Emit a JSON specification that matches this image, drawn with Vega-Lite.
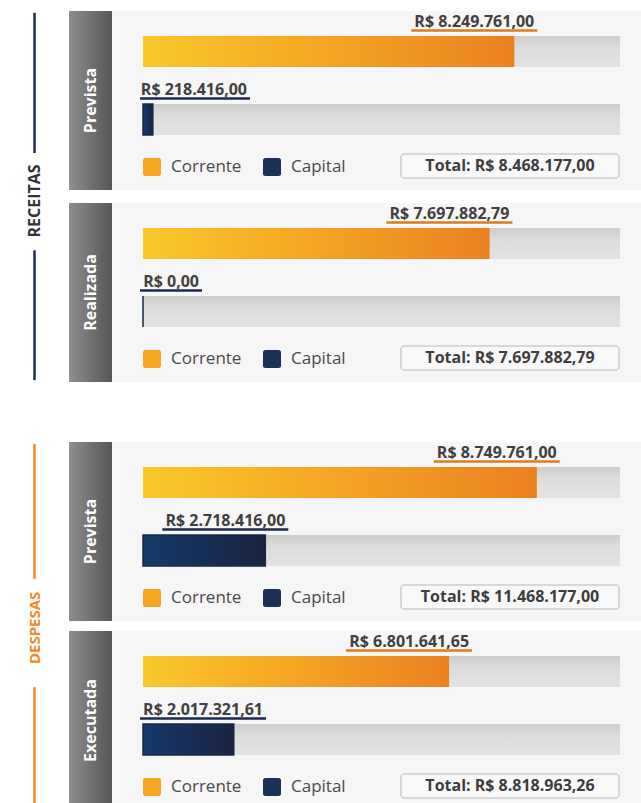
{
  "$schema": "https://vega.github.io/schema/vega-lite/v6.json",
  "background": "white",
  "padding": {"left": 0, "top": 11, "right": 0, "bottom": 0},
  "config": {"view": {"stroke": null}, "font": "Open Sans"},
  "data": {"values": [
    {"painel": "Receitas Prevista", "grupo": "RECEITAS", "etapa": "Prevista", "tipo": "Corrente", "valor": 8249761.00, "rotulo": "R$ 8.249.761,00"},
    {"painel": "Receitas Prevista", "grupo": "RECEITAS", "etapa": "Prevista", "tipo": "Capital", "valor": 218416.00, "rotulo": "R$ 218.416,00"},
    {"painel": "Receitas Prevista", "grupo": "RECEITAS", "etapa": "Prevista", "tipo": "Total", "valor": 8468177.00, "rotulo": "Total: R$ 8.468.177,00"},
    {"painel": "Receitas Realizada", "grupo": "RECEITAS", "etapa": "Realizada", "tipo": "Corrente", "valor": 7697882.79, "rotulo": "R$ 7.697.882,79"},
    {"painel": "Receitas Realizada", "grupo": "RECEITAS", "etapa": "Realizada", "tipo": "Capital", "valor": 0, "rotulo": "R$ 0,00"},
    {"painel": "Receitas Realizada", "grupo": "RECEITAS", "etapa": "Realizada", "tipo": "Total", "valor": 7697882.79, "rotulo": "Total: R$ 7.697.882,79"},
    {"painel": "Despesas Prevista", "grupo": "DESPESAS", "etapa": "Prevista", "tipo": "Corrente", "valor": 8749761.00, "rotulo": "R$ 8.749.761,00"},
    {"painel": "Despesas Prevista", "grupo": "DESPESAS", "etapa": "Prevista", "tipo": "Capital", "valor": 2718416.00, "rotulo": "R$ 2.718.416,00"},
    {"painel": "Despesas Prevista", "grupo": "DESPESAS", "etapa": "Prevista", "tipo": "Total", "valor": 11468177.00, "rotulo": "Total: R$ 11.468.177,00"},
    {"painel": "Despesas Executada", "grupo": "DESPESAS", "etapa": "Executada", "tipo": "Corrente", "valor": 6801641.65, "rotulo": "R$ 6.801.641,65"},
    {"painel": "Despesas Executada", "grupo": "DESPESAS", "etapa": "Executada", "tipo": "Capital", "valor": 2017321.61, "rotulo": "R$ 2.017.321,61"},
    {"painel": "Despesas Executada", "grupo": "DESPESAS", "etapa": "Executada", "tipo": "Total", "valor": 8818963.26, "rotulo": "Total: R$ 8.818.963,26"}
  ]},
  "spacing": 60,
  "resolve": {"scale": {"color": "independent"}},
  "vconcat": [
    {
      "spacing": 0,
      "resolve": {"scale": {"color": "independent"}},
      "hconcat": [
        {
          "width": 69, "height": 371,
          "transform": [{"filter": "datum.grupo === 'RECEITAS' && datum.etapa === 'Prevista' && datum.tipo === 'Total'"}],
          "layer": [
            {"mark": {"type": "rule", "color": "#1e2a4f", "strokeWidth": 2.5},
             "encoding": {"y": {"datum": 0.005, "type": "quantitative", "axis": null, "scale": {"domain": [0, 1], "reverse": true, "nice": false}}, "y2": {"datum": 0.383}}},
            {"mark": {"type": "rule", "color": "#1e2a4f", "strokeWidth": 2.5},
             "encoding": {"y": {"datum": 0.645, "type": "quantitative"}, "y2": {"datum": 0.995}}},
            {"mark": {"type": "text", "angle": 270, "fontSize": 16, "fontWeight": "bold", "color": "#333333", "baseline": "middle"},
             "encoding": {"y": {"datum": 0.512, "type": "quantitative"}, "text": {"field": "grupo"}}}
          ]
        },
        {
          "spacing": 13,
          "resolve": {"scale": {"color": "independent"}},
          "vconcat": [
            {
              "spacing": 0,
              "bounds": "flush",
              "resolve": {"scale": {"color": "independent"}},
              "hconcat": [
                {
                  "width": 43, "height": 179,
                  "view": {"stroke": null, "fill": {"gradient": "linear", "x1": 0, "y1": 0, "x2": 1, "y2": 0, "stops": [{"offset": 0, "color": "#8e8e8e"}, {"offset": 1, "color": "#565656"}]}},
                  "transform": [{"filter": "datum.painel === 'Receitas Prevista' && datum.tipo === 'Total'"}],
                  "mark": {"type": "text", "angle": 270, "fontSize": 16, "fontWeight": "bold", "color": "white", "baseline": "middle"},
                  "encoding": {"text": {"field": "etapa"}}
                },
                {
                  "width": 529, "height": 179,
                  "view": {"fill": "#f6f6f6", "stroke": null},
                  "transform": [{"filter": "datum.painel === 'Receitas Prevista'"}],
                  "encoding": {"y": {"field": "tipo", "type": "nominal", "axis": null, "scale": {"domain": ["Corrente", "Capital", "Total"], "range": [6.5, 210.5], "paddingInner": 0, "paddingOuter": 0}}},
                  "layer": [
                    {"transform": [{"filter": "datum.tipo !== 'Total'"}],
                     "mark": {"type": "rect", "height": 31, "fill": {"gradient": "linear", "x1": 0, "y1": 0, "x2": 0, "y2": 1, "stops": [{"offset": 0, "color": "#cdcdcd"}, {"offset": 0.35, "color": "#dcdcdc"}, {"offset": 1, "color": "#e3e3e3"}]}},
                     "encoding": {"x": {"datum": 0, "type": "quantitative", "axis": null, "scale": {"domain": [0, 10600000], "range": [31, 508], "nice": false}}, "x2": {"datum": 10600000}}},
                    {"transform": [{"filter": "datum.tipo !== 'Total'"}],
                     "mark": {"type": "bar", "height": 31},
                     "encoding": {"x": {"field": "valor", "type": "quantitative"},
                                  "color": {"field": "tipo", "type": "nominal", "scale": {"domain": ["Corrente", "Capital"], "range": ["#f5a623", "#1b3157"]},
                                            "legend": {"orient": "none", "legendX": 31, "legendY": 147, "direction": "horizontal", "columns": 2, "title": null, "symbolType": "M -0.75,-1 H 0.75 A 0.25 0.25 0 0 1 1 -0.75 V 0.75 A 0.25 0.25 0 0 1 0.75 1 H -0.75 A 0.25 0.25 0 0 1 -1 0.75 V -0.75 A 0.25 0.25 0 0 1 -0.75 -1 Z", "symbolSize": 324, "symbolStrokeWidth": 0, "labelFontSize": 17, "labelColor": "#4a4a4a", "labelOffset": 10, "columnPadding": 21, "padding": 0}}}},
                    {"transform": [{"filter": "datum.tipo === 'Corrente'"}],
                     "mark": {"type": "bar", "height": 31, "fill": {"gradient": "linear", "x1": 0, "y1": 0, "x2": 1, "y2": 0, "stops": [{"offset": 0, "color": "#f9c92a"}, {"offset": 0.4, "color": "#f5ab24"}, {"offset": 1, "color": "#ea8120"}]}},
                     "encoding": {"x": {"field": "valor", "type": "quantitative"}}},
                    {"transform": [{"filter": "datum.tipo === 'Capital'"}],
                     "mark": {"type": "bar", "height": 31, "stroke": "#17284a", "strokeWidth": 1.5, "fill": {"gradient": "linear", "x1": 0, "y1": 0, "x2": 1, "y2": 0, "stops": [{"offset": 0, "color": "#143b69"}, {"offset": 1, "color": "#1b2342"}]}},
                     "encoding": {"x": {"field": "valor", "type": "quantitative"}}},
                    {"transform": [{"filter": "datum.tipo !== 'Total'"}],
                     "mark": {"type": "rule", "strokeWidth": 2.5, "yOffset": -21, "xOffset": {"expr": "max(20, 8 * length(datum.rotulo) - datum.valor * 477 / 10600000) - 8 * length(datum.rotulo) - 3"}, "x2Offset": {"expr": "max(20, 8 * length(datum.rotulo) - datum.valor * 477 / 10600000) + 3"}},
                     "encoding": {"x": {"field": "valor", "type": "quantitative"}, "x2": {"field": "valor"},
                                  "color": {"condition": {"test": "datum.tipo === 'Corrente'", "value": "#de7b1c"}, "value": "#1d2a4c"}}},
                    {"transform": [{"filter": "datum.tipo !== 'Total'"}],
                     "mark": {"type": "text", "align": "right", "baseline": "alphabetic", "xOffset": {"expr": "max(20, 8 * length(datum.rotulo) - datum.valor * 477 / 10600000)"}, "yOffset": -25, "fontSize": 16, "fontWeight": "bold", "color": "#404040"},
                     "encoding": {"x": {"field": "valor", "type": "quantitative"}, "text": {"field": "rotulo"}}},
                    {"transform": [{"filter": "datum.tipo === 'Total'"}],
                     "mark": {"type": "rect", "height": 24, "yOffset": -21.5, "xOffset": -219, "x2Offset": -1, "fill": "#f9f9f9", "stroke": "#b9b9b9", "strokeWidth": 1, "cornerRadius": 3},
                     "encoding": {"x": {"datum": 10600000, "type": "quantitative"}, "x2": {"datum": 10600000}}},
                    {"transform": [{"filter": "datum.tipo === 'Total'"}],
                     "mark": {"type": "text", "align": "center", "baseline": "middle", "xOffset": -110, "yOffset": -21.5, "fontSize": 16, "fontWeight": "bold", "color": "#3d3d3d"},
                     "encoding": {"x": {"datum": 10600000, "type": "quantitative"}, "text": {"field": "rotulo"}}}
                  ]
                }
              ]
            },
            {
              "spacing": 0,
              "bounds": "flush",
              "resolve": {"scale": {"color": "independent"}},
              "hconcat": [
                {
                  "width": 43, "height": 179,
                  "view": {"stroke": null, "fill": {"gradient": "linear", "x1": 0, "y1": 0, "x2": 1, "y2": 0, "stops": [{"offset": 0, "color": "#8e8e8e"}, {"offset": 1, "color": "#565656"}]}},
                  "transform": [{"filter": "datum.painel === 'Receitas Realizada' && datum.tipo === 'Total'"}],
                  "mark": {"type": "text", "angle": 270, "fontSize": 16, "fontWeight": "bold", "color": "white", "baseline": "middle"},
                  "encoding": {"text": {"field": "etapa"}}
                },
                {
                  "width": 529, "height": 179,
                  "view": {"fill": "#f6f6f6", "stroke": null},
                  "transform": [{"filter": "datum.painel === 'Receitas Realizada'"}],
                  "encoding": {"y": {"field": "tipo", "type": "nominal", "axis": null, "scale": {"domain": ["Corrente", "Capital", "Total"], "range": [6.5, 210.5], "paddingInner": 0, "paddingOuter": 0}}},
                  "layer": [
                    {"transform": [{"filter": "datum.tipo !== 'Total'"}],
                     "mark": {"type": "rect", "height": 31, "fill": {"gradient": "linear", "x1": 0, "y1": 0, "x2": 0, "y2": 1, "stops": [{"offset": 0, "color": "#cdcdcd"}, {"offset": 0.35, "color": "#dcdcdc"}, {"offset": 1, "color": "#e3e3e3"}]}},
                     "encoding": {"x": {"datum": 0, "type": "quantitative", "axis": null, "scale": {"domain": [0, 10600000], "range": [31, 508], "nice": false}}, "x2": {"datum": 10600000}}},
                    {"transform": [{"filter": "datum.tipo !== 'Total'"}],
                     "mark": {"type": "bar", "height": 31},
                     "encoding": {"x": {"field": "valor", "type": "quantitative"},
                                  "color": {"field": "tipo", "type": "nominal", "scale": {"domain": ["Corrente", "Capital"], "range": ["#f5a623", "#1b3157"]},
                                            "legend": {"orient": "none", "legendX": 31, "legendY": 147, "direction": "horizontal", "columns": 2, "title": null, "symbolType": "M -0.75,-1 H 0.75 A 0.25 0.25 0 0 1 1 -0.75 V 0.75 A 0.25 0.25 0 0 1 0.75 1 H -0.75 A 0.25 0.25 0 0 1 -1 0.75 V -0.75 A 0.25 0.25 0 0 1 -0.75 -1 Z", "symbolSize": 324, "symbolStrokeWidth": 0, "labelFontSize": 17, "labelColor": "#4a4a4a", "labelOffset": 10, "columnPadding": 21, "padding": 0}}}},
                    {"transform": [{"filter": "datum.tipo === 'Corrente'"}],
                     "mark": {"type": "bar", "height": 31, "fill": {"gradient": "linear", "x1": 0, "y1": 0, "x2": 1, "y2": 0, "stops": [{"offset": 0, "color": "#f9c92a"}, {"offset": 0.4, "color": "#f5ab24"}, {"offset": 1, "color": "#ea8120"}]}},
                     "encoding": {"x": {"field": "valor", "type": "quantitative"}}},
                    {"transform": [{"filter": "datum.tipo === 'Capital'"}],
                     "mark": {"type": "bar", "height": 31, "stroke": "#17284a", "strokeWidth": 1.5, "fill": {"gradient": "linear", "x1": 0, "y1": 0, "x2": 1, "y2": 0, "stops": [{"offset": 0, "color": "#143b69"}, {"offset": 1, "color": "#1b2342"}]}},
                     "encoding": {"x": {"field": "valor", "type": "quantitative"}}},
                    {"transform": [{"filter": "datum.tipo !== 'Total'"}],
                     "mark": {"type": "rule", "strokeWidth": 2.5, "yOffset": -21, "xOffset": {"expr": "max(20, 8 * length(datum.rotulo) - datum.valor * 477 / 10600000) - 8 * length(datum.rotulo) - 3"}, "x2Offset": {"expr": "max(20, 8 * length(datum.rotulo) - datum.valor * 477 / 10600000) + 3"}},
                     "encoding": {"x": {"field": "valor", "type": "quantitative"}, "x2": {"field": "valor"},
                                  "color": {"condition": {"test": "datum.tipo === 'Corrente'", "value": "#de7b1c"}, "value": "#1d2a4c"}}},
                    {"transform": [{"filter": "datum.tipo !== 'Total'"}],
                     "mark": {"type": "text", "align": "right", "baseline": "alphabetic", "xOffset": {"expr": "max(20, 8 * length(datum.rotulo) - datum.valor * 477 / 10600000)"}, "yOffset": -25, "fontSize": 16, "fontWeight": "bold", "color": "#404040"},
                     "encoding": {"x": {"field": "valor", "type": "quantitative"}, "text": {"field": "rotulo"}}},
                    {"transform": [{"filter": "datum.tipo === 'Total'"}],
                     "mark": {"type": "rect", "height": 24, "yOffset": -21.5, "xOffset": -219, "x2Offset": -1, "fill": "#f9f9f9", "stroke": "#b9b9b9", "strokeWidth": 1, "cornerRadius": 3},
                     "encoding": {"x": {"datum": 10600000, "type": "quantitative"}, "x2": {"datum": 10600000}}},
                    {"transform": [{"filter": "datum.tipo === 'Total'"}],
                     "mark": {"type": "text", "align": "center", "baseline": "middle", "xOffset": -110, "yOffset": -21.5, "fontSize": 16, "fontWeight": "bold", "color": "#3d3d3d"},
                     "encoding": {"x": {"datum": 10600000, "type": "quantitative"}, "text": {"field": "rotulo"}}}
                  ]
                }
              ]
            }
          ]
        }
      ]
    },
    {
      "spacing": 0,
      "resolve": {"scale": {"color": "independent"}},
      "hconcat": [
        {
          "width": 69, "height": 368,
          "transform": [{"filter": "datum.grupo === 'DESPESAS' && datum.etapa === 'Prevista' && datum.tipo === 'Total'"}],
          "layer": [
            {"mark": {"type": "rule", "color": "#f28b25", "strokeWidth": 2.5},
             "encoding": {"y": {"datum": 0.005, "type": "quantitative", "axis": null, "scale": {"domain": [0, 1], "reverse": true, "nice": false}}, "y2": {"datum": 0.372}}},
            {"mark": {"type": "rule", "color": "#f28b25", "strokeWidth": 2.5},
             "encoding": {"y": {"datum": 0.666, "type": "quantitative"}, "y2": {"datum": 0.995}}},
            {"mark": {"type": "text", "angle": 270, "fontSize": 15, "fontWeight": "bold", "color": "#f28b25", "baseline": "middle"},
             "encoding": {"y": {"datum": 0.505, "type": "quantitative"}, "text": {"field": "grupo"}}}
          ]
        },
        {
          "spacing": 10,
          "resolve": {"scale": {"color": "independent"}},
          "vconcat": [
            {
              "spacing": 0,
              "bounds": "flush",
              "resolve": {"scale": {"color": "independent"}},
              "hconcat": [
                {
                  "width": 43, "height": 179,
                  "view": {"stroke": null, "fill": {"gradient": "linear", "x1": 0, "y1": 0, "x2": 1, "y2": 0, "stops": [{"offset": 0, "color": "#8e8e8e"}, {"offset": 1, "color": "#565656"}]}},
                  "transform": [{"filter": "datum.painel === 'Despesas Prevista' && datum.tipo === 'Total'"}],
                  "mark": {"type": "text", "angle": 270, "fontSize": 16, "fontWeight": "bold", "color": "white", "baseline": "middle"},
                  "encoding": {"text": {"field": "etapa"}}
                },
                {
                  "width": 529, "height": 179,
                  "view": {"fill": "#f6f6f6", "stroke": null},
                  "transform": [{"filter": "datum.painel === 'Despesas Prevista'"}],
                  "encoding": {"y": {"field": "tipo", "type": "nominal", "axis": null, "scale": {"domain": ["Corrente", "Capital", "Total"], "range": [6.5, 210.5], "paddingInner": 0, "paddingOuter": 0}}},
                  "layer": [
                    {"transform": [{"filter": "datum.tipo !== 'Total'"}],
                     "mark": {"type": "rect", "height": 31, "fill": {"gradient": "linear", "x1": 0, "y1": 0, "x2": 0, "y2": 1, "stops": [{"offset": 0, "color": "#cdcdcd"}, {"offset": 0.35, "color": "#dcdcdc"}, {"offset": 1, "color": "#e3e3e3"}]}},
                     "encoding": {"x": {"datum": 0, "type": "quantitative", "axis": null, "scale": {"domain": [0, 10600000], "range": [31, 508], "nice": false}}, "x2": {"datum": 10600000}}},
                    {"transform": [{"filter": "datum.tipo !== 'Total'"}],
                     "mark": {"type": "bar", "height": 31},
                     "encoding": {"x": {"field": "valor", "type": "quantitative"},
                                  "color": {"field": "tipo", "type": "nominal", "scale": {"domain": ["Corrente", "Capital"], "range": ["#f5a623", "#1b3157"]},
                                            "legend": {"orient": "none", "legendX": 31, "legendY": 147, "direction": "horizontal", "columns": 2, "title": null, "symbolType": "M -0.75,-1 H 0.75 A 0.25 0.25 0 0 1 1 -0.75 V 0.75 A 0.25 0.25 0 0 1 0.75 1 H -0.75 A 0.25 0.25 0 0 1 -1 0.75 V -0.75 A 0.25 0.25 0 0 1 -0.75 -1 Z", "symbolSize": 324, "symbolStrokeWidth": 0, "labelFontSize": 17, "labelColor": "#4a4a4a", "labelOffset": 10, "columnPadding": 21, "padding": 0}}}},
                    {"transform": [{"filter": "datum.tipo === 'Corrente'"}],
                     "mark": {"type": "bar", "height": 31, "fill": {"gradient": "linear", "x1": 0, "y1": 0, "x2": 1, "y2": 0, "stops": [{"offset": 0, "color": "#f9c92a"}, {"offset": 0.4, "color": "#f5ab24"}, {"offset": 1, "color": "#ea8120"}]}},
                     "encoding": {"x": {"field": "valor", "type": "quantitative"}}},
                    {"transform": [{"filter": "datum.tipo === 'Capital'"}],
                     "mark": {"type": "bar", "height": 31, "stroke": "#17284a", "strokeWidth": 1.5, "fill": {"gradient": "linear", "x1": 0, "y1": 0, "x2": 1, "y2": 0, "stops": [{"offset": 0, "color": "#143b69"}, {"offset": 1, "color": "#1b2342"}]}},
                     "encoding": {"x": {"field": "valor", "type": "quantitative"}}},
                    {"transform": [{"filter": "datum.tipo !== 'Total'"}],
                     "mark": {"type": "rule", "strokeWidth": 2.5, "yOffset": -21, "xOffset": {"expr": "max(20, 8 * length(datum.rotulo) - datum.valor * 477 / 10600000) - 8 * length(datum.rotulo) - 3"}, "x2Offset": {"expr": "max(20, 8 * length(datum.rotulo) - datum.valor * 477 / 10600000) + 3"}},
                     "encoding": {"x": {"field": "valor", "type": "quantitative"}, "x2": {"field": "valor"},
                                  "color": {"condition": {"test": "datum.tipo === 'Corrente'", "value": "#de7b1c"}, "value": "#1d2a4c"}}},
                    {"transform": [{"filter": "datum.tipo !== 'Total'"}],
                     "mark": {"type": "text", "align": "right", "baseline": "alphabetic", "xOffset": {"expr": "max(20, 8 * length(datum.rotulo) - datum.valor * 477 / 10600000)"}, "yOffset": -25, "fontSize": 16, "fontWeight": "bold", "color": "#404040"},
                     "encoding": {"x": {"field": "valor", "type": "quantitative"}, "text": {"field": "rotulo"}}},
                    {"transform": [{"filter": "datum.tipo === 'Total'"}],
                     "mark": {"type": "rect", "height": 24, "yOffset": -21.5, "xOffset": -219, "x2Offset": -1, "fill": "#f9f9f9", "stroke": "#b9b9b9", "strokeWidth": 1, "cornerRadius": 3},
                     "encoding": {"x": {"datum": 10600000, "type": "quantitative"}, "x2": {"datum": 10600000}}},
                    {"transform": [{"filter": "datum.tipo === 'Total'"}],
                     "mark": {"type": "text", "align": "center", "baseline": "middle", "xOffset": -110, "yOffset": -21.5, "fontSize": 16, "fontWeight": "bold", "color": "#3d3d3d"},
                     "encoding": {"x": {"datum": 10600000, "type": "quantitative"}, "text": {"field": "rotulo"}}}
                  ]
                }
              ]
            },
            {
              "spacing": 0,
              "bounds": "flush",
              "resolve": {"scale": {"color": "independent"}},
              "hconcat": [
                {
                  "width": 43, "height": 179,
                  "view": {"stroke": null, "fill": {"gradient": "linear", "x1": 0, "y1": 0, "x2": 1, "y2": 0, "stops": [{"offset": 0, "color": "#8e8e8e"}, {"offset": 1, "color": "#565656"}]}},
                  "transform": [{"filter": "datum.painel === 'Despesas Executada' && datum.tipo === 'Total'"}],
                  "mark": {"type": "text", "angle": 270, "fontSize": 16, "fontWeight": "bold", "color": "white", "baseline": "middle"},
                  "encoding": {"text": {"field": "etapa"}}
                },
                {
                  "width": 529, "height": 179,
                  "view": {"fill": "#f6f6f6", "stroke": null},
                  "transform": [{"filter": "datum.painel === 'Despesas Executada'"}],
                  "encoding": {"y": {"field": "tipo", "type": "nominal", "axis": null, "scale": {"domain": ["Corrente", "Capital", "Total"], "range": [6.5, 210.5], "paddingInner": 0, "paddingOuter": 0}}},
                  "layer": [
                    {"transform": [{"filter": "datum.tipo !== 'Total'"}],
                     "mark": {"type": "rect", "height": 31, "fill": {"gradient": "linear", "x1": 0, "y1": 0, "x2": 0, "y2": 1, "stops": [{"offset": 0, "color": "#cdcdcd"}, {"offset": 0.35, "color": "#dcdcdc"}, {"offset": 1, "color": "#e3e3e3"}]}},
                     "encoding": {"x": {"datum": 0, "type": "quantitative", "axis": null, "scale": {"domain": [0, 10600000], "range": [31, 508], "nice": false}}, "x2": {"datum": 10600000}}},
                    {"transform": [{"filter": "datum.tipo !== 'Total'"}],
                     "mark": {"type": "bar", "height": 31},
                     "encoding": {"x": {"field": "valor", "type": "quantitative"},
                                  "color": {"field": "tipo", "type": "nominal", "scale": {"domain": ["Corrente", "Capital"], "range": ["#f5a623", "#1b3157"]},
                                            "legend": {"orient": "none", "legendX": 31, "legendY": 147, "direction": "horizontal", "columns": 2, "title": null, "symbolType": "M -0.75,-1 H 0.75 A 0.25 0.25 0 0 1 1 -0.75 V 0.75 A 0.25 0.25 0 0 1 0.75 1 H -0.75 A 0.25 0.25 0 0 1 -1 0.75 V -0.75 A 0.25 0.25 0 0 1 -0.75 -1 Z", "symbolSize": 324, "symbolStrokeWidth": 0, "labelFontSize": 17, "labelColor": "#4a4a4a", "labelOffset": 10, "columnPadding": 21, "padding": 0}}}},
                    {"transform": [{"filter": "datum.tipo === 'Corrente'"}],
                     "mark": {"type": "bar", "height": 31, "fill": {"gradient": "linear", "x1": 0, "y1": 0, "x2": 1, "y2": 0, "stops": [{"offset": 0, "color": "#f9c92a"}, {"offset": 0.4, "color": "#f5ab24"}, {"offset": 1, "color": "#ea8120"}]}},
                     "encoding": {"x": {"field": "valor", "type": "quantitative"}}},
                    {"transform": [{"filter": "datum.tipo === 'Capital'"}],
                     "mark": {"type": "bar", "height": 31, "stroke": "#17284a", "strokeWidth": 1.5, "fill": {"gradient": "linear", "x1": 0, "y1": 0, "x2": 1, "y2": 0, "stops": [{"offset": 0, "color": "#143b69"}, {"offset": 1, "color": "#1b2342"}]}},
                     "encoding": {"x": {"field": "valor", "type": "quantitative"}}},
                    {"transform": [{"filter": "datum.tipo !== 'Total'"}],
                     "mark": {"type": "rule", "strokeWidth": 2.5, "yOffset": -21, "xOffset": {"expr": "max(20, 8 * length(datum.rotulo) - datum.valor * 477 / 10600000) - 8 * length(datum.rotulo) - 3"}, "x2Offset": {"expr": "max(20, 8 * length(datum.rotulo) - datum.valor * 477 / 10600000) + 3"}},
                     "encoding": {"x": {"field": "valor", "type": "quantitative"}, "x2": {"field": "valor"},
                                  "color": {"condition": {"test": "datum.tipo === 'Corrente'", "value": "#de7b1c"}, "value": "#1d2a4c"}}},
                    {"transform": [{"filter": "datum.tipo !== 'Total'"}],
                     "mark": {"type": "text", "align": "right", "baseline": "alphabetic", "xOffset": {"expr": "max(20, 8 * length(datum.rotulo) - datum.valor * 477 / 10600000)"}, "yOffset": -25, "fontSize": 16, "fontWeight": "bold", "color": "#404040"},
                     "encoding": {"x": {"field": "valor", "type": "quantitative"}, "text": {"field": "rotulo"}}},
                    {"transform": [{"filter": "datum.tipo === 'Total'"}],
                     "mark": {"type": "rect", "height": 24, "yOffset": -21.5, "xOffset": -219, "x2Offset": -1, "fill": "#f9f9f9", "stroke": "#b9b9b9", "strokeWidth": 1, "cornerRadius": 3},
                     "encoding": {"x": {"datum": 10600000, "type": "quantitative"}, "x2": {"datum": 10600000}}},
                    {"transform": [{"filter": "datum.tipo === 'Total'"}],
                     "mark": {"type": "text", "align": "center", "baseline": "middle", "xOffset": -110, "yOffset": -21.5, "fontSize": 16, "fontWeight": "bold", "color": "#3d3d3d"},
                     "encoding": {"x": {"datum": 10600000, "type": "quantitative"}, "text": {"field": "rotulo"}}}
                  ]
                }
              ]
            }
          ]
        }
      ]
    }
  ]
}
